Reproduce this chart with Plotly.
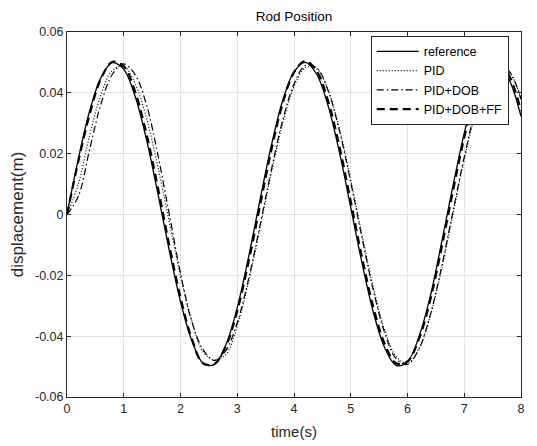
import plotly.graph_objects as go

# time samples (s)
time_s = [round(0.2 * i, 1) for i in range(41)]

reference = [0.0, 0.0183, 0.0341, 0.0451, 0.0499, 0.0477, 0.0389, 0.0247, 0.0070, -0.0116,
             -0.0286, -0.0415, -0.0489, -0.0493, -0.0428, -0.0306, -0.0139, 0.0047, 0.0226, 0.0374,
             0.0469, 0.0500, 0.0461, 0.0358, 0.0205, 0.0023, -0.0161, -0.0323, -0.0439, -0.0496,
             -0.0484, -0.0403, -0.0270, -0.0093, 0.0093, 0.0267, 0.0403, 0.0484, 0.0497, 0.0440,
             0.0323]

pid = [0.0, 0.0100, 0.0261, 0.0395, 0.0474, 0.0487, 0.0431, 0.0317, 0.0158, -0.0023,
       -0.0201, -0.0350, -0.0452, -0.0478, -0.0460, -0.0366, -0.0221, -0.0046, 0.0136, 0.0299,
       0.0420, 0.0483, 0.0479, 0.0409, 0.0281, 0.0114, -0.0069, -0.0242, -0.0381, -0.0467,
       -0.0489, -0.0442, -0.0334, -0.0180, 0.0000, 0.0180, 0.0334, 0.0442, 0.0489, 0.0467,
       0.0381]

pid_dob = [0.0, 0.0060, 0.0215, 0.0364, 0.0461, 0.0495, 0.0460, 0.0361, 0.0198, 0.0003,
           -0.0193, -0.0353, -0.0445, -0.0480, -0.0447, -0.0355, -0.0212, -0.0037, 0.0146, 0.0309,
           0.0429, 0.0490, 0.0482, 0.0408, 0.0276, 0.0106, -0.0078, -0.0251, -0.0390, -0.0474,
           -0.0493, -0.0443, -0.0331, -0.0173, 0.0009, 0.0189, 0.0344, 0.0450, 0.0494, 0.0469,
           0.0379]

pid_dob_ff = [0.0, 0.0175, 0.0330, 0.0447, 0.0502, 0.0487, 0.0404, 0.0265, 0.0090, -0.0099,
              -0.0273, -0.0409, -0.0490, -0.0491, -0.0433, -0.0317, -0.0155, 0.0028, 0.0211, 0.0365,
              0.0467, 0.0505, 0.0472, 0.0374, 0.0224, 0.0043, -0.0142, -0.0306, -0.0426, -0.0489,
              -0.0483, -0.0410, -0.0282, -0.0110, 0.0076, 0.0253, 0.0396, 0.0483, 0.0503, 0.0454,
              0.0341]

x_ticks = [0, 1, 2, 3, 4, 5, 6, 7, 8]
x_ticklabels = ["0", "1", "2", "3", "4", "5", "6", "7", "8"]
y_ticks = [-0.06, -0.04, -0.02, 0, 0.02, 0.04, 0.06]
y_ticklabels = ["-0.06", "-0.04", "-0.02", "0", "0.02", "0.04", "0.06"]

FONT = "Liberation Sans, Arial, sans-serif"
AXC = "#262626"

fig = go.Figure()
fig.add_trace(go.Scatter(x=time_s, y=reference, name="reference", mode="lines",
                         line=dict(color="black", width=1.3, shape="spline")))
fig.add_trace(go.Scatter(x=time_s, y=pid, name="PID", mode="lines",
                         line=dict(color="black", width=1.2, dash="1px,2px", shape="spline")))
fig.add_trace(go.Scatter(x=time_s, y=pid_dob, name="PID+DOB", mode="lines",
                         line=dict(color="black", width=1.2, dash="7px,3px,1.5px,3px", shape="spline")))
fig.add_trace(go.Scatter(x=time_s, y=pid_dob_ff, name="PID+DOB+FF", mode="lines",
                         line=dict(color="black", width=2.2, dash="8px,5px", shape="spline")))

axis_common = dict(
    showline=True, linecolor=AXC, linewidth=1, mirror="ticks",
    ticks="inside", ticklen=4, tickcolor=AXC, tickwidth=1,
    showgrid=True, gridcolor="#e3e3e3", gridwidth=1,
    zeroline=False, automargin=False,
    tickfont=dict(family=FONT, size=12.5, color=AXC),
)

fig.update_layout(
    width=529, height=438,
    margin=dict(l=59, r=16, t=24, b=49),
    paper_bgcolor="white", plot_bgcolor="white",
    font=dict(family=FONT, color=AXC),
    title=dict(text="Rod Position", x=0.5, xref="paper", xanchor="center",
               y=0.982, yref="container", yanchor="middle",
               font=dict(family=FONT, size=13.5, color="black")),
    xaxis=dict(range=[0, 8], tickvals=x_ticks, ticktext=x_ticklabels,
               title=dict(text="time(s)", font=dict(family=FONT, size=15, color=AXC), standoff=11),
               **axis_common),
    yaxis=dict(range=[-0.06, 0.06], tickvals=y_ticks, ticktext=y_ticklabels,
               title=dict(text="displacement(m)", font=dict(family=FONT, size=17, color=AXC), standoff=8),
               **axis_common),
    legend=dict(x=0.973, y=0.99, xanchor="right", yanchor="top",
                bgcolor="white", bordercolor=AXC, borderwidth=1,
                font=dict(family=FONT, size=12.5, color="black"),
                tracegroupgap=0, itemwidth=42),
    showlegend=True,
)

fig.write_html("out.html")
